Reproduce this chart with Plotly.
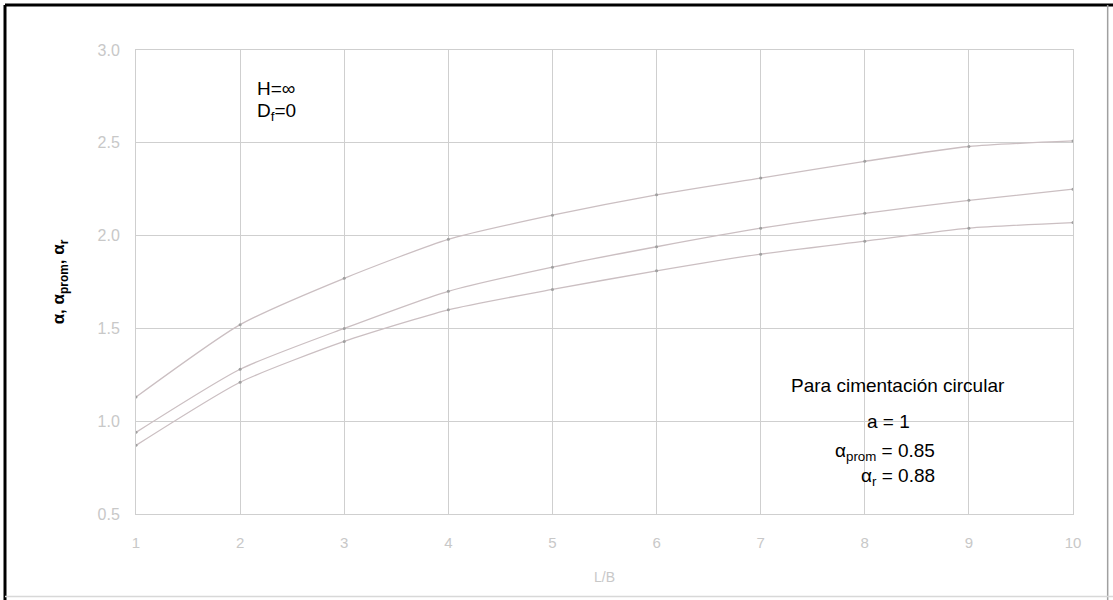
import plotly.graph_objects as go

# Data
L_B = [1, 2, 3, 4, 5, 6, 7, 8, 9, 10]
alpha = [1.13, 1.52, 1.77, 1.98, 2.11, 2.22, 2.31, 2.40, 2.48, 2.51]
alpha_prom = [0.94, 1.28, 1.50, 1.70, 1.83, 1.94, 2.04, 2.12, 2.19, 2.25]
alpha_r = [0.87, 1.21, 1.43, 1.60, 1.71, 1.81, 1.90, 1.97, 2.04, 2.07]

x_ticks = [1, 2, 3, 4, 5, 6, 7, 8, 9, 10]
y_ticks = [0.5, 1.0, 1.5, 2.0, 2.5, 3.0]
y_ticktext = ["0.5", "1.0", "1.5", "2.0", "2.5", "3.0"]

curve_color = "#cbbfc2"
grid_color = "#cfcfcf"
label_color = "#c8c8c8"
font_family = "Liberation Sans, Arial, sans-serif"
note_size = 19

fig = go.Figure()
for name, ys in [("α", alpha), ("α prom", alpha_prom), ("α r", alpha_r)]:
    fig.add_trace(go.Scatter(
        x=L_B, y=ys, name=name, mode="lines+markers",
        line=dict(color=curve_color, width=1.3, shape="spline", smoothing=0.6),
        marker=dict(color="#a0a0a0", size=3),
        showlegend=False, hoverinfo="x+y",
    ))

fig.update_layout(
    width=1113, height=600,
    margin=dict(l=136, r=40, t=50, b=86),
    paper_bgcolor="white", plot_bgcolor="white",
    font=dict(family=font_family, color="black"),
    xaxis=dict(
        range=[1, 10], tickvals=x_ticks, showgrid=True, gridcolor=grid_color,
        gridwidth=1, zeroline=False, showline=True, linecolor=grid_color,
        mirror=True, ticks="", ticklabelstandoff=15,
        tickfont=dict(size=15, color=label_color),
        title=dict(text="L/B", font=dict(size=14, color=label_color), standoff=22),
    ),
    yaxis=dict(
        range=[0.5, 3.0], tickvals=y_ticks, ticktext=y_ticktext, showgrid=True,
        gridcolor=grid_color, gridwidth=1, zeroline=False, showline=True,
        linecolor=grid_color, mirror=True, ticks="", ticklabelstandoff=12,
        tickfont=dict(size=16, color=label_color),
        title=dict(text="<b>α, α<sub>prom</sub>, α<sub>r</sub></b>",
                   font=dict(size=17, color="black"), standoff=28),
    ),
)

# Text annotations
fig.add_annotation(x=2.14, y=2.795, xref="x", yref="y", xanchor="left",
                   text="H=∞", showarrow=False, font=dict(size=note_size, color="black"))
fig.add_annotation(x=2.14, y=2.666, xref="x", yref="y", xanchor="left",
                   text="D<sub>f</sub>=0", showarrow=False,
                   font=dict(size=note_size, color="black"))
fig.add_annotation(x=8.32, y=1.195, xref="x", yref="y", xanchor="center",
                   text="Para cimentación circular", showarrow=False,
                   font=dict(size=note_size, color="black"))
fig.add_annotation(x=8.23, y=0.996, xref="x", yref="y", xanchor="center",
                   text="a = 1", showarrow=False, font=dict(size=note_size, color="black"))
fig.add_annotation(x=8.69, y=0.834, xref="x", yref="y", xanchor="right",
                   text="α<sub>prom</sub> = 0.85", showarrow=False,
                   font=dict(size=note_size, color="black"))
fig.add_annotation(x=8.69, y=0.699, xref="x", yref="y", xanchor="right",
                   text="α<sub>r</sub> = 0.88", showarrow=False,
                   font=dict(size=note_size, color="black"))

# Scanned page frame
fig.add_shape(type="line", xref="paper", yref="paper",
              x0=-0.1398, x1=-0.1398, y0=-0.19, y1=1.097,
              line=dict(color="black", width=3))
fig.add_shape(type="line", xref="paper", yref="paper",
              x0=-0.1398, x1=1.05, y0=1.097, y1=1.097,
              line=dict(color="black", width=3))
fig.add_shape(type="line", xref="paper", yref="paper",
              x0=1.037, x1=1.037, y0=-0.19, y1=1.097,
              line=dict(color="#a0a0a0", width=1.5))
fig.add_shape(type="line", xref="paper", yref="paper",
              x0=-0.1398, x1=1.05, y0=-0.178, y1=-0.178,
              line=dict(color="#d8d8d8", width=1.5))

fig.write_html("out.html", config={"displayModeBar": False},
               post_script="document.body.style.margin='0px';")
